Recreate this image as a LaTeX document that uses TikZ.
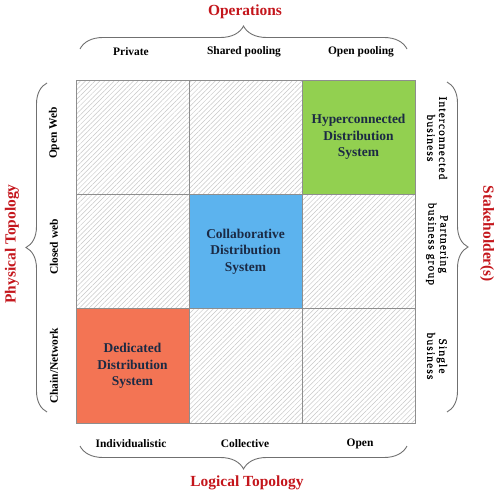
\documentclass[tikz,border=0pt]{standalone}
\usepackage{fontspec}
\setmainfont{Liberation Serif}
\usetikzlibrary{patterns.meta,decorations.pathreplacing}
\definecolor{titlered}{HTML}{C4161C}
\definecolor{cellgreen}{HTML}{92D050}
\definecolor{cellblue}{HTML}{5CB3EE}
\definecolor{cellorange}{HTML}{F37454}
\definecolor{celltext}{HTML}{1B2A44}
\definecolor{bordergray}{HTML}{8E8E8E}
\definecolor{bracegray}{HTML}{707070}
\begin{document}
\begin{tikzpicture}[x=1bp,y=1bp,
  cell/.style={draw=bordergray, line width=0.8bp, minimum width=113bp, minimum height=114.3bp, inner sep=0pt, outer sep=0pt},
  hatch/.style={cell, pattern={Lines[angle=45,distance=3.4bp,line width=0.5bp]}, pattern color=black!22},
  filled/.style={cell, text=celltext, align=center, font=\fontsize{13.5}{16.5}\selectfont\bfseries},
  lab/.style={font=\fontsize{11.5}{13}\selectfont\bfseries, inner sep=0pt},
  rlab/.style={font=\fontsize{11.5}{12}\selectfont\addfontfeature{LetterSpace=10,FakeBold=0.6}, align=center, inner sep=0pt, rotate=-90},
  ttl/.style={font=\fontsize{15.5}{17}\selectfont\bfseries, text=titlered, inner sep=0pt},
  brc/.style={draw=bracegray, line width=0.9bp, decorate, decoration={brace, amplitude=#1}}
]
\useasboundingbox (0,0) rectangle (498,-503);
% grid cells
\node[hatch] (c11) at (132.5,-137.2) {};
\node[hatch] (c12) at (245.5,-137.2) {};
\node[filled, fill=cellgreen] (c13) at (358.5,-137.2) {Hyperconnected\\Distribution\\System};
\node[hatch] (c21) at (132.5,-251.5) {};
\node[filled, fill=cellblue] (c22) at (245.5,-251.5) {Collaborative\\Distribution\\System};
\node[hatch] (c23) at (358.5,-251.5) {};
\node[filled, fill=cellorange] (c31) at (132.5,-365.8) {Dedicated\\Distribution\\System};
\node[hatch] (c32) at (245.5,-365.8) {};
\node[hatch] (c33) at (358.5,-365.8) {};
% top
\node[ttl] (ops) at (245,-12) {Operations};
\node[lab] (tp1) at (131,-52) {Private};
\node[lab] (tp2) at (244,-52) {Shared pooling};
\node[lab] (tp3) at (361,-52) {Open pooling};
\coordinate (tbl) at (80,-49);
\coordinate (tbr) at (407,-49);
\draw[brc=23bp] (tbl) -- (tbr);
% bottom
\node[lab] (bt1) at (131,-444) {Individualistic};
\node[lab] (bt2) at (245,-444) {Collective};
\node[lab] (bt3) at (360,-444) {Open};
\coordinate (bbl) at (80,-446);
\coordinate (bbr) at (407,-446);
\draw[brc=23bp] (bbr) -- (bbl);
\node[ttl] (log) at (247,-483) {Logical Topology};
% left
\node[ttl, rotate=90] (phy) at (12,-244) {Physical Topology};
\coordinate (lbb) at (47,-412);
\coordinate (lbt) at (47,-83);
\draw[brc=21bp] (lbb) -- (lbt);
\node[lab, rotate=90] (lt1) at (54,-133) {Open Web};
\node[lab, rotate=90] (lt2) at (54,-247) {Closed web};
\node[lab, rotate=90] (lt3) at (54,-366) {Chain/Network};
% right
\coordinate (rbt) at (447,-82);
\coordinate (rbb) at (447,-412);
\draw[brc=21bp] (rbt) -- (rbb);
\node[ttl, rotate=-90] (stk) at (487,-234) {Stakeholder(s)};
\node[rlab] (rt1) at (437,-138) {Interconnected\\business};
\node[rlab] (rt2) at (437,-244) {Partnering\\business group};
\node[rlab] (rt3) at (437,-356) {Single\\business};
\end{tikzpicture}
\end{document}
